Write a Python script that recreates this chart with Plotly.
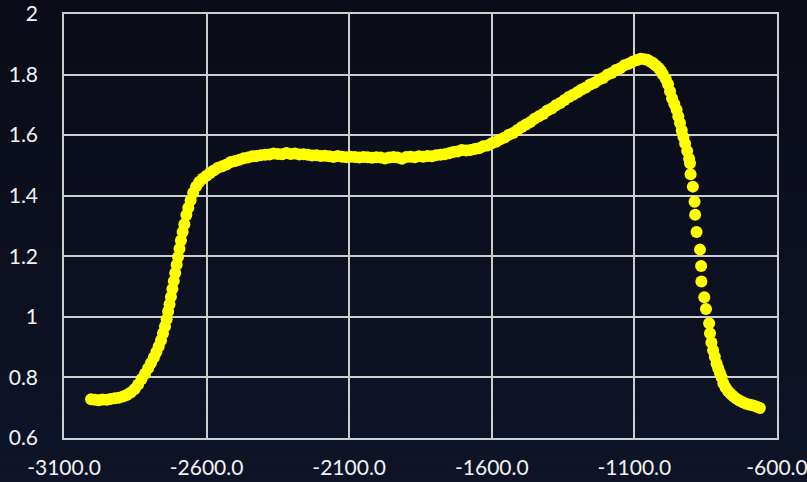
import plotly.graph_objects as go

# Measured profile: position (x) and value (y)
x_vals = [
    -3005, -2992, -2978, -2965, -2950, -2937, -2922, -2908, -2893, -2880,
    -2866, -2852, -2840, -2828, -2816, -2805, -2795, -2785, -2776, -2768,
    -2760, -2753, -2746, -2740, -2735, -2730, -2725, -2720, -2715, -2710,
    -2705, -2700, -2695, -2690, -2684, -2678, -2671, -2664, -2656, -2647,
    -2637, -2626, -2613, -2600, -2588, -2575, -2560, -2545, -2530, -2515,
    -2500, -2485, -2470, -2455, -2440, -2425, -2410, -2395, -2380, -2365,
    -2350, -2335, -2320, -2305, -2290, -2275, -2260, -2245, -2230, -2215,
    -2200, -2185, -2170, -2155, -2140, -2125, -2110, -2095, -2080, -2065,
    -2050, -2035, -2020, -2005, -1990, -1975, -1960, -1945, -1930, -1915,
    -1900, -1885, -1870, -1855, -1840, -1825, -1810, -1795, -1780, -1765,
    -1750, -1735, -1720, -1705, -1690, -1675, -1660, -1645, -1630, -1615,
    -1600, -1585, -1570, -1555, -1540, -1525, -1510, -1495, -1480, -1465,
    -1450, -1435, -1420, -1405, -1390, -1375, -1360, -1345, -1330, -1315,
    -1300, -1285, -1270, -1255, -1240, -1225, -1210, -1195, -1180, -1165,
    -1150, -1135, -1120, -1105, -1090, -1078, -1066, -1055, -1045, -1035,
    -1025, -1015, -1007, -1000, -990, -982, -975, -968, -960, -952,
    -946, -940, -934, -928, -922, -915, -908, -905, -903, -895,
    -889, -887, -882, -870, -866, -865, -855, -849, -838, -835,
    -830, -824, -818, -812, -806, -800, -794, -788, -780, -772,
    -763, -753, -743, -732, -720, -708, -695, -683, -671, -660,
]
y_vals = [
    0.728, 0.726, 0.725, 0.727, 0.726, 0.729, 0.731, 0.733, 0.737, 0.742,
    0.750, 0.762, 0.777, 0.795, 0.812, 0.830, 0.848, 0.866, 0.884, 0.902,
    0.922, 0.945, 0.968, 0.992, 1.018, 1.042, 1.066, 1.092, 1.118, 1.145,
    1.172, 1.198, 1.225, 1.252, 1.280, 1.306, 1.336, 1.360, 1.385, 1.410,
    1.430, 1.445, 1.457, 1.466, 1.475, 1.483, 1.492, 1.497, 1.503, 1.511,
    1.515, 1.519, 1.524, 1.526, 1.530, 1.531, 1.534, 1.535, 1.536, 1.539,
    1.538, 1.537, 1.541, 1.538, 1.539, 1.536, 1.537, 1.535, 1.533, 1.534,
    1.531, 1.532, 1.530, 1.528, 1.531, 1.529, 1.527, 1.529, 1.528, 1.526,
    1.528, 1.527, 1.525, 1.527, 1.526, 1.523, 1.526, 1.528, 1.526, 1.522,
    1.528, 1.529, 1.527, 1.530, 1.529, 1.531, 1.530, 1.534, 1.535, 1.537,
    1.540, 1.544, 1.546, 1.551, 1.549, 1.551, 1.554, 1.557, 1.563, 1.566,
    1.573, 1.578, 1.586, 1.592, 1.601, 1.607, 1.617, 1.627, 1.635, 1.643,
    1.654, 1.662, 1.670, 1.681, 1.688, 1.699, 1.706, 1.716, 1.726, 1.733,
    1.742, 1.751, 1.757, 1.767, 1.773, 1.783, 1.789, 1.799, 1.805, 1.815,
    1.821, 1.831, 1.836, 1.843, 1.848, 1.852, 1.851, 1.849, 1.843, 1.838,
    1.830, 1.822, 1.812, 1.800, 1.785, 1.768, 1.745, 1.722, 1.703, 1.684,
    1.662, 1.640, 1.616, 1.594, 1.572, 1.548, 1.522, 1.507, 1.471, 1.430,
    1.380, 1.337, 1.280, 1.222, 1.168, 1.117, 1.065, 1.026, 0.979, 0.946,
    0.915, 0.890, 0.868, 0.846, 0.830, 0.815, 0.800, 0.780, 0.766, 0.755,
    0.746, 0.738, 0.730, 0.724, 0.718, 0.713, 0.710, 0.707, 0.703, 0.699,
]

x_ticks = [-3100, -2600, -2100, -1600, -1100, -600]
x_tick_text = ["-3100.0", "-2600.0", "-2100.0", "-1600.0", "-1100.0", "-600.0"]
y_ticks = [0.6, 0.8, 1.0, 1.2, 1.4, 1.6, 1.8, 2.0]
y_tick_text = ["0.6", "0.8", "1", "1.2", "1.4", "1.6", "1.8", "2"]

grid = "#cdcdcd"
font = dict(family="Lato, Liberation Sans, sans-serif", size=21, color="#f2f2f2")

# Dark navy background, slightly bluer towards the bottom
top_rgb = (10, 11, 22)
bottom_rgb = (14, 20, 40)
n_bands = 30
bands = []
for i in range(n_bands):
    t = i / (n_bands - 1)
    r, g, b = (round(a + (c - a) * t) for a, c in zip(top_rgb, bottom_rgb))
    bands.append(dict(
        type="rect", xref="paper", yref="paper", layer="below",
        x0=-0.2, x1=1.2,
        y1=1.1 - i * (1.3 / n_bands), y0=1.1 - (i + 1) * (1.3 / n_bands) - 0.002,
        fillcolor=f"rgb({r},{g},{b})", line=dict(width=0),
    ))

fig = go.Figure(
    go.Scatter(
        x=x_vals,
        y=y_vals,
        mode="markers",
        marker=dict(size=12, color="#ffff00", line=dict(width=0)),
        hoverinfo="x+y",
    )
)

fig.update_layout(
    width=807,
    height=482,
    margin=dict(l=64, r=30, t=14, b=44),
    paper_bgcolor="rgb(12,15,30)",
    plot_bgcolor="rgba(0,0,0,0)",
    font=font,
    showlegend=False,
    shapes=bands,
)

fig.update_xaxes(
    range=[-3100, -600],
    tickvals=x_ticks,
    ticktext=x_tick_text,
    automargin=False,
    ticklabeloverflow="allow",
    showgrid=True,
    gridcolor=grid,
    gridwidth=1.5,
    zeroline=False,
    showline=True,
    mirror=True,
    linecolor=grid,
    linewidth=1.5,
    ticks="outside",
    ticklen=10,
    tickcolor="rgba(0,0,0,0)",
)

fig.update_yaxes(
    range=[0.6, 2.0],
    tickvals=y_ticks,
    ticktext=y_tick_text,
    automargin=False,
    ticklabeloverflow="allow",
    showgrid=True,
    gridcolor=grid,
    gridwidth=1.5,
    zeroline=False,
    showline=True,
    mirror=True,
    linecolor=grid,
    linewidth=1.5,
    ticks="outside",
    ticklen=20,
    tickcolor="rgba(0,0,0,0)",
)

fig.write_html("out.html")
